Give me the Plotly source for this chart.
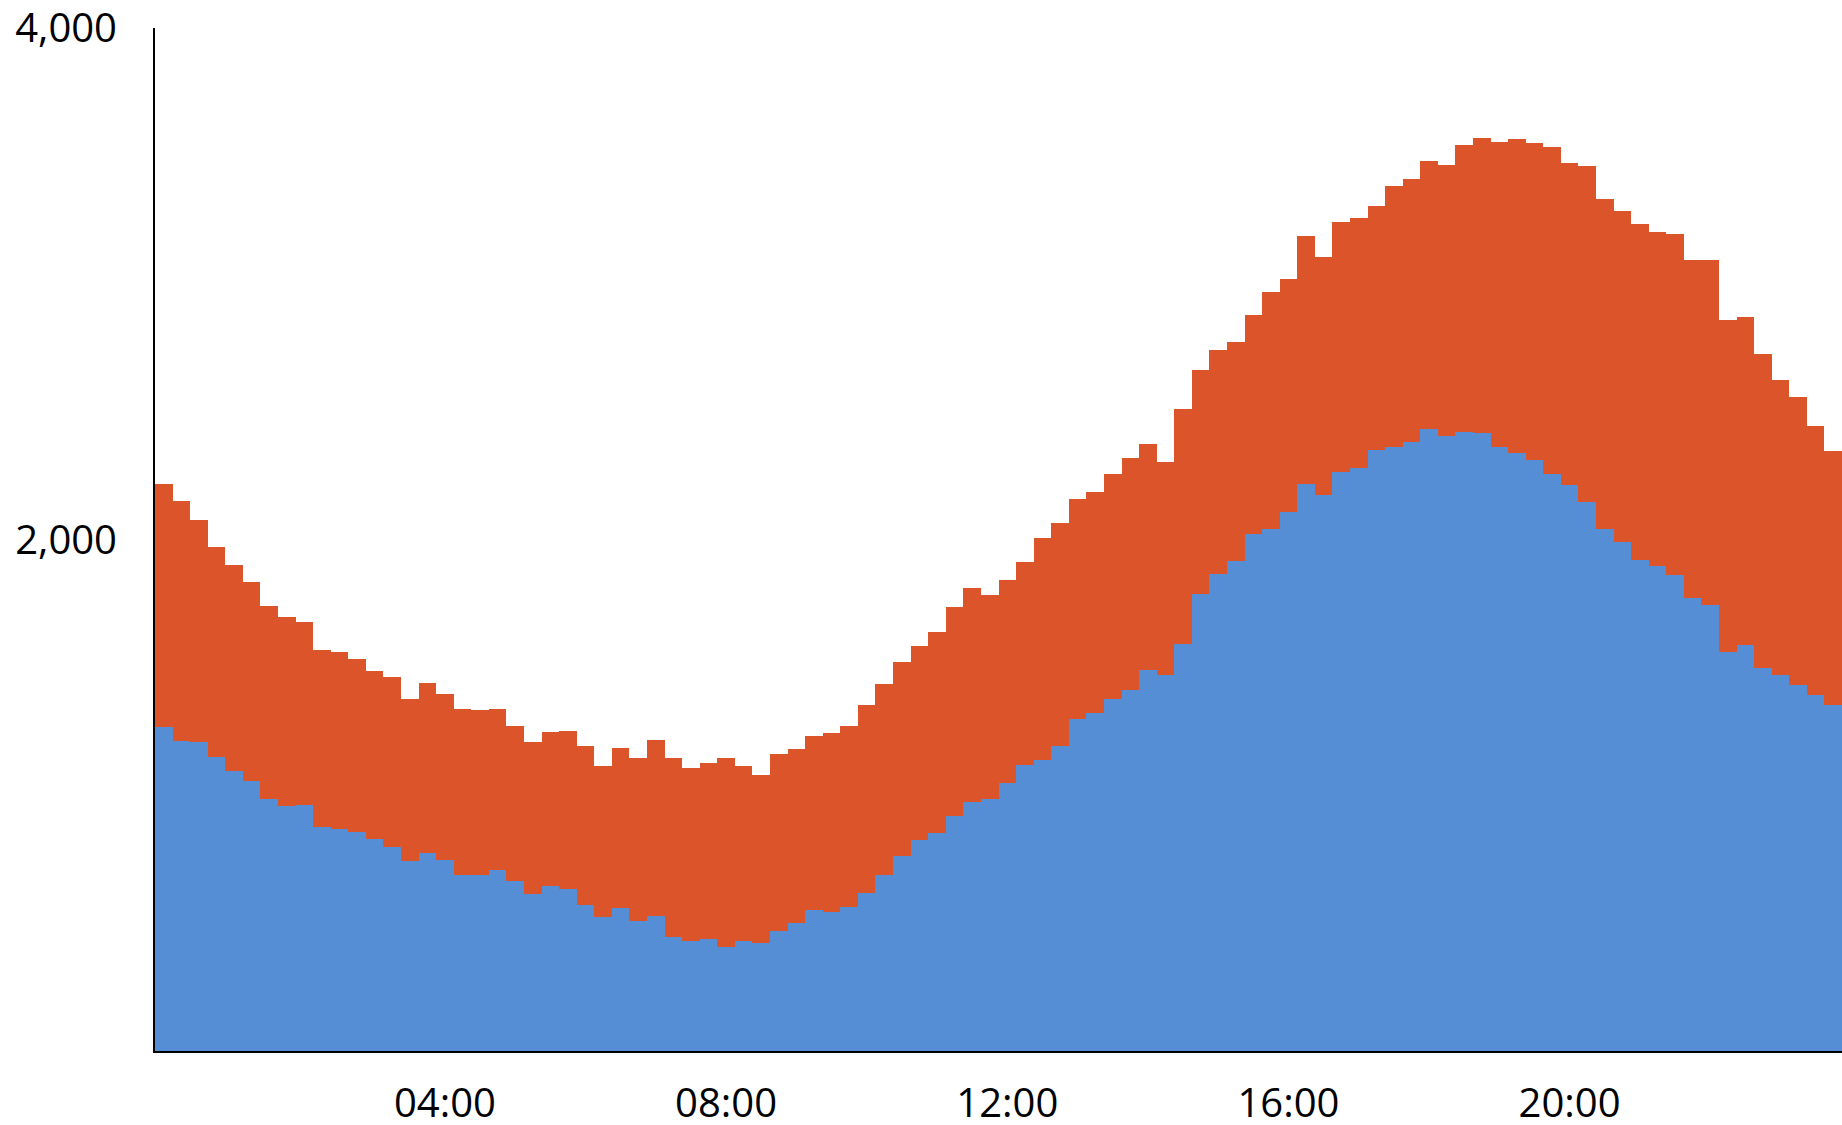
import plotly.graph_objects as go

# 15-minute intervals over one day
times = [f"{h:02d}:{m:02d}" for h in range(24) for m in (0, 15, 30, 45)]

tick_labels = ["04:00", "08:00", "12:00", "16:00", "20:00"]
y_tick_vals = [2000, 4000]
y_tick_text = ["2,000", "4,000"]

blue_values = [
    1268, 1211, 1210, 1150, 1095, 1055, 987, 957, 963, 875, 867, 855, 828, 796, 742, 775,
    747, 688, 688, 706, 665, 613, 644, 632, 572, 523, 560, 508, 529, 446, 430, 437,
    405, 429, 421, 468, 499, 550, 545, 564, 619, 688, 761, 825, 854, 920, 974, 985,
    1047, 1117, 1137, 1191, 1299, 1320, 1375, 1412, 1489, 1469, 1590, 1787, 1864, 1915, 2023, 2041,
    2109, 2216, 2174, 2263, 2280, 2349, 2363, 2381, 2431, 2404, 2419, 2415, 2362, 2339, 2312, 2255,
    2215, 2147, 2041, 1989, 1922, 1896, 1861, 1770, 1745, 1560, 1588, 1496, 1471, 1433, 1391, 1354,
]

red_values = [
    948, 939, 866, 822, 804, 780, 753, 740, 713, 692, 692, 677, 659, 665, 633, 663,
    648, 648, 644, 630, 607, 595, 602, 619, 619, 591, 626, 636, 686, 698, 675, 689,
    742, 684, 658, 692, 682, 683, 697, 707, 735, 747, 759, 757, 786, 817, 836, 797,
    796, 794, 868, 874, 858, 866, 882, 907, 883, 833, 920, 878, 877, 856, 854, 927,
    910, 973, 931, 977, 976, 954, 1021, 1029, 1048, 1059, 1125, 1157, 1192, 1226, 1237, 1282,
    1258, 1313, 1290, 1295, 1312, 1306, 1335, 1323, 1347, 1300, 1281, 1231, 1153, 1125, 1052, 994,
]

fig = go.Figure()
fig.add_trace(go.Bar(x=times, y=blue_values, marker=dict(color="#558ED5", line=dict(width=0)),
                     name="Series 1"))
fig.add_trace(go.Bar(x=times, y=red_values, marker=dict(color="#DC552A", line=dict(width=0)),
                     name="Series 2"))

font_family = "Open Sans"
fig.update_layout(
    width=1842, height=1125,
    margin=dict(l=155, r=0, t=28, b=74, pad=0),
    barmode="stack", bargap=0,
    showlegend=False,
    plot_bgcolor="white", paper_bgcolor="white",
    font=dict(family=font_family, size=40, color="#000000"),
    xaxis=dict(
        type="category", range=[-0.5, 95.5],
        tickmode="array", tickvals=tick_labels, ticktext=tick_labels,
        ticks="", showgrid=False, zeroline=False,
        showline=True, linecolor="#000000", linewidth=2,
        ticklabelstandoff=16, automargin=False, ticklabeloverflow="allow",
        tickfont=dict(family=font_family, size=40, color="#000000"),
    ),
    yaxis=dict(
        range=[0, 4000.5],
        tickmode="array", tickvals=y_tick_vals, ticktext=y_tick_text,
        ticks="", showgrid=False, zeroline=False,
        showline=True, linecolor="#000000", linewidth=2,
        ticklabelstandoff=28, automargin=False, ticklabeloverflow="allow",
        tickfont=dict(family=font_family, size=40, color="#000000"),
    ),
)

fig.write_html(
    "out.html",
    config={"displayModeBar": False},
    post_script="document.body.style.margin='0';document.body.style.overflow='hidden';",
)
